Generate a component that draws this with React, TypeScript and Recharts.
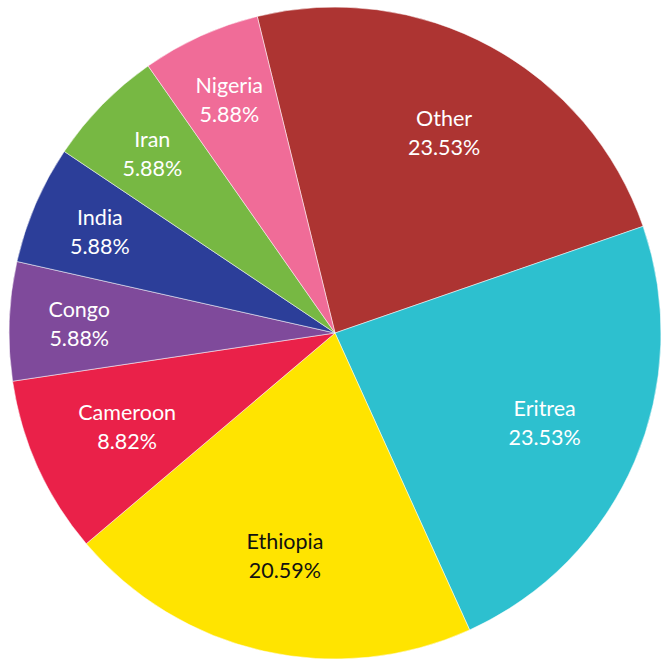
import React from "react";
import { PieChart, Pie, Cell } from "recharts";

const countries = ["Other", "Eritrea", "Ethiopia", "Cameroon", "Congo", "India", "Iran", "Nigeria"];
const counts = [8, 8, 7, 3, 2, 2, 2, 2];
const colors = ["#AD3432", "#2DC0CF", "#FFE400", "#EA2149", "#7F4A9B", "#2C3E99", "#77B843", "#F06C98"];
const labelColors = ["#ffffff", "#ffffff", "#111111", "#ffffff", "#ffffff", "#ffffff", "#ffffff", "#ffffff"];

const data = countries.map((name, i) => ({ name, value: counts[i] }));

const RAD = Math.PI / 180;

const renderLabel = (props: any) => {
  const { cx, cy, midAngle, outerRadius, percent, index, name } = props;
  const f = percent > 0.07 ? 0.7 : 0.785;
  const r = outerRadius * f;
  const x = cx + r * Math.cos(-midAngle * RAD);
  const y = cy + r * Math.sin(-midAngle * RAD);
  const fill = labelColors[index];
  return (
    <text
      x={x}
      y={y}
      fill={fill}
      textAnchor="middle"
      fontFamily="Lato, 'Open Sans', sans-serif"
      fontSize={21.5}
    >
      <tspan x={x} dy={-7}>{name}</tspan>
      <tspan x={x} dy={29}>{(percent * 100).toFixed(2) + "%"}</tspan>
    </text>
  );
};

export default function App() {
  return (
    <div style={{ position: "absolute", left: 0, top: 0, width: 667, height: 659, background: "#fff" }}>
      <PieChart width={667} height={659} margin={{ top: 0, right: 0, bottom: 0, left: 0 }}>
        <Pie
          data={data}
          dataKey="value"
          nameKey="name"
          cx={335}
          cy={333}
          outerRadius={326}
          startAngle={103.8}
          endAngle={-256.2}
          stroke="#ffffff"
          strokeWidth={0.5}
          label={renderLabel}
          labelLine={false}
          isAnimationActive={false}
        >
          {data.map((d, i) => (
            <Cell key={d.name} fill={colors[i]} />
          ))}
        </Pie>
      </PieChart>
    </div>
  );
}
